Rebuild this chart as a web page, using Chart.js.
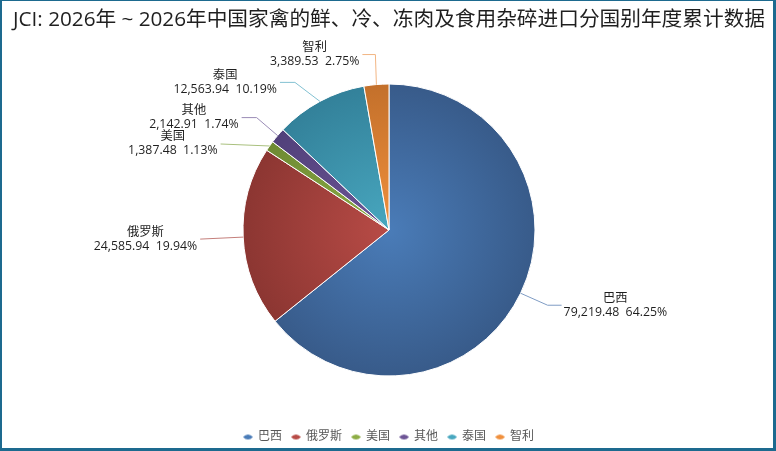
<!DOCTYPE html>
<html>
<head>
<meta charset="utf-8">
<script src="https://cdn.jsdelivr.net/npm/chart.js@4/dist/chart.umd.min.js"></script>
<style>
  html, body { margin: 0; padding: 0; background: #fff; }
  #wrap {
    position: relative;
    width: 771px;
    height: 447px;
    border-style: solid;
    border-color: #1d6a8f;
    border-width: 1px 3px 3px 2px;
  }
</style>
</head>
<body>
<div id="wrap"><canvas id="c"></canvas></div>
<script>
  const titleText = 'JCI: 2026年 ~ 2026年中国家禽的鲜、冷、冻肉及食用杂碎进口分国别年度累计数据';
  const categories = ['巴西', '俄罗斯', '美国', '其他', '泰国', '智利'];
  const values = [79219.48, 24585.94, 1387.48, 2142.91, 12563.94, 3389.53];

  // slice colours: centre -> rim, plus leader line colour
  const innerColors = ['#4a7cb8', '#b84b46', '#8dad45', '#6d5596', '#48a7bf', '#f0903d'];
  const outerColors = ['#385b8a', '#8c3632', '#6e8a33', '#51407a', '#33819a', '#c3702b'];
  const lineColors = ['#7f9cc4', '#c47f7b', '#a9c07e', '#9a8cb6', '#82c1d2', '#f2b583'];

  // leader line bends, relative to the point on the slice rim
  const labelLayout = [
    { elbow: [27, 12], end: [41, 12], side: 'right' },
    { elbow: [-43, 2], end: [-43, 2], side: 'left' },
    { elbow: [-49, -2], end: [-49, -2], side: 'left' },
    { elbow: [-21, -18], end: [-36, -18], side: 'left' },
    { elbow: [-25, -19], end: [-40, -19], side: 'left' },
    { elbow: [-1, -30], end: [-14, -30], side: 'left' }
  ];

  const FONT = '"Open Sans", "Noto Sans CJK SC", sans-serif';
  const PIE_R = 146;

  // flattened diamond markers for the legend
  const markers = innerColors.map(function (col) {
    const cv = document.createElement('canvas');
    cv.width = 10;
    cv.height = 7;
    const g = cv.getContext('2d');
    g.fillStyle = col;
    g.beginPath();
    g.moveTo(0, 3.5);
    g.quadraticCurveTo(5, -1.5, 10, 3.5);
    g.quadraticCurveTo(5, 8.5, 0, 3.5);
    g.fill();
    return cv;
  });

  function sliceFill(ctx) {
    const i = ctx.dataIndex;
    const area = ctx.chart.chartArea;
    if (!area) return innerColors[i];
    const cx = (area.left + area.right) / 2;
    const cy = (area.top + area.bottom) / 2;
    const g = ctx.chart.ctx.createRadialGradient(cx, cy, 0, cx, cy, PIE_R);
    g.addColorStop(0, innerColors[i]);
    g.addColorStop(1, outerColors[i]);
    return g;
  }

  const total = values.reduce(function (a, b) { return a + b; }, 0);

  const sliceLabels = {
    id: 'sliceLabels',
    afterDatasetsDraw: function (chart) {
      const ctx = chart.ctx;
      const meta = chart.getDatasetMeta(0);
      ctx.save();
      ctx.font = '12.3px ' + FONT;
      ctx.textBaseline = 'middle';
      meta.data.forEach(function (arc, i) {
        const p = arc.getProps(['x', 'y', 'startAngle', 'endAngle', 'outerRadius'], true);
        const mid = (p.startAngle + p.endAngle) / 2;
        const ex = p.x + Math.cos(mid) * p.outerRadius;
        const ey = p.y + Math.sin(mid) * p.outerRadius;
        const L = labelLayout[i];

        ctx.strokeStyle = lineColors[i];
        ctx.lineWidth = 1;
        ctx.beginPath();
        ctx.moveTo(ex, ey);
        ctx.lineTo(ex + L.elbow[0], ey + L.elbow[1]);
        ctx.lineTo(ex + L.end[0], ey + L.end[1]);
        ctx.stroke();

        const name = categories[i];
        const valTxt = values[i].toLocaleString('en-US', { minimumFractionDigits: 2, maximumFractionDigits: 2 }) +
          '  ' + (values[i] / total * 100).toFixed(2) + '%';
        const w = ctx.measureText(valTxt).width;
        const endX = ex + L.end[0];
        const endY = ey + L.end[1];
        const left = L.side === 'right' ? endX + 2 : endX - 3 - w;

        ctx.fillStyle = '#1f1f1f';
        ctx.textAlign = 'center';
        ctx.fillText(name, left + w / 2, endY - 7);
        ctx.fillText(valTxt, left + w / 2, endY + 7);
      });
      ctx.restore();
    }
  };

  new Chart(document.getElementById('c'), {
    type: 'pie',
    data: {
      labels: categories,
      datasets: [{
        data: values,
        backgroundColor: sliceFill,
        borderColor: '#ffffff',
        borderWidth: 1,
        radius: PIE_R
      }]
    },
    options: {
      responsive: true,
      maintainAspectRatio: false,
      animation: false,
      layout: { padding: { left: 11, right: 8, top: 0, bottom: -5 } },
      plugins: {
        title: {
          display: true,
          text: titleText,
          align: 'start',
          color: '#1f1f1f',
          font: { family: FONT, size: 20.7, weight: 'normal', lineHeight: 1.16 },
          padding: { top: 7, bottom: 7 }
        },
        legend: {
          position: 'bottom',
          labels: {
            usePointStyle: true,
            pointStyleWidth: 8,
            boxHeight: 7,
            padding: 10,
            color: '#595959',
            font: { family: FONT, size: 12 },
            generateLabels: function (chart) {
              const items = Chart.overrides.pie.plugins.legend.labels.generateLabels(chart);
              items.forEach(function (it, i) {
                it.pointStyle = markers[i];
                it.fillStyle = innerColors[i];
                it.strokeStyle = innerColors[i];
                it.lineWidth = 0;
              });
              return items;
            }
          }
        },
        tooltip: { enabled: false }
      }
    },
    plugins: [sliceLabels]
  });
</script>
</body>
</html>
